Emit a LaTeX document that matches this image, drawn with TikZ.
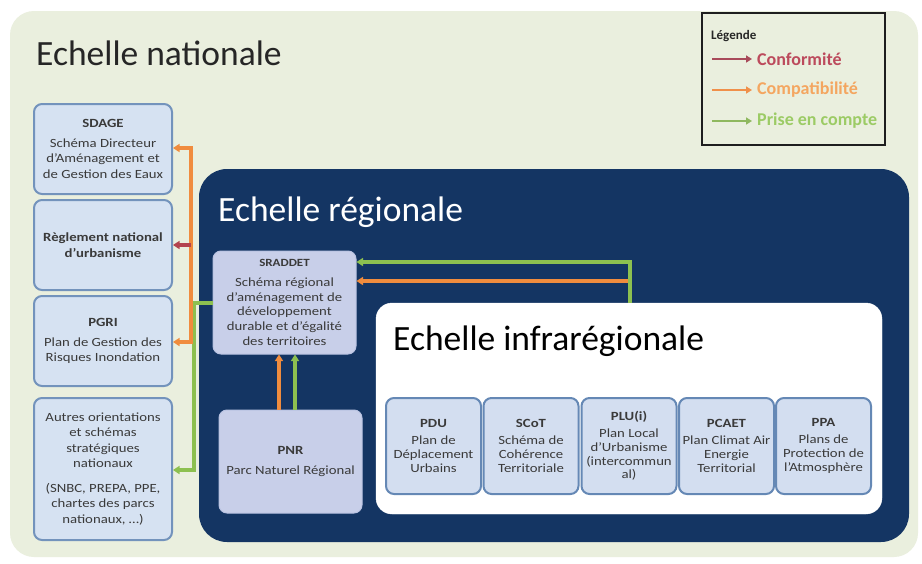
\documentclass[tikz,border=0pt]{standalone}
\usepackage{fontspec}
\setmainfont{Carlito}
\newfontfamily\boxfont[FakeStretch=1.18]{Carlito}
\usetikzlibrary{arrows.meta}
\definecolor{bgout}{HTML}{EAEFDE}
\definecolor{natfill}{HTML}{D6E2F2}
\definecolor{natdraw}{HTML}{7393BC}
\definecolor{regblue}{HTML}{143563}
\definecolor{lav}{HTML}{C8CFE9}
\definecolor{lavdraw}{HTML}{BAC3E2}
\definecolor{subfill}{HTML}{D3DEF0}
\definecolor{subdraw}{HTML}{6588B5}
\definecolor{cred}{HTML}{B3434F}
\definecolor{corange}{HTML}{F08C3E}
\definecolor{cgreen}{HTML}{8DC050}
\definecolor{txt}{HTML}{3A3A3A}
\definecolor{txtb}{HTML}{262626}
\definecolor{legred}{HTML}{BC4A5C}
\definecolor{legorange}{HTML}{F4A660}
\definecolor{leggreen}{HTML}{9CCB65}
\definecolor{legarrred}{HTML}{A84A5A}
\definecolor{legarror}{HTML}{F0904A}
\definecolor{legarrgr}{HTML}{8FB85F}
\definecolor{legdraw}{HTML}{1E1E1E}
\tikzset{
  tipA/.tip={Triangle[length=6.5pt,width=8pt]},
  tipL/.tip={Triangle[length=6pt,width=7pt]},
  natbox/.style={draw=natdraw, line width=2pt, fill=natfill, rounded corners=8pt,
    minimum width=138pt, minimum height=90pt, inner sep=0pt, align=center, text=txt,
    font=\boxfont\fontsize{12.5}{15.5}\selectfont},
  regbox/.style={draw=lavdraw, line width=1pt, fill=lav, rounded corners=8pt,
    minimum width=143pt, minimum height=103pt, inner sep=0pt, align=center, text=txt,
    font=\boxfont\fontsize{12.5}{14.7}\selectfont},
  subbox/.style={draw=subdraw, line width=2pt, fill=subfill, rounded corners=8pt,
    minimum width=95pt, minimum height=96pt, inner sep=0pt, align=center, text=txt,
    font=\boxfont\fontsize{12.5}{13.8}\selectfont},
  bigtitle/.style={anchor=base west, inner sep=0pt, font=\fontsize{35.5}{42}\selectfont},
  legtext/.style={anchor=west, inner sep=0pt, font=\bfseries\fontsize{18}{21}\selectfont},
  conn/.style={line width=3.4pt},
  oline/.style={conn, draw=corange},
  gline/.style={conn, draw=cgreen},
  rline/.style={conn, draw=cred},
  legarr/.style={line width=2.8pt, -tipL},
}
\begin{document}
\begin{tikzpicture}[x=1pt,y=-1pt]
\useasboundingbox (0,0) rectangle (922,563);
\fill[white] (0,0) rectangle (922,563);
% national scale background
\fill[bgout, rounded corners=24pt] (10,11) rectangle (918,557);
\node[bigtitle, text=txtb] (tnat) at (36,65) {Echelle nationale};

% legend
\node[draw=legdraw, line width=2pt, minimum width=183pt, minimum height=132pt, inner sep=0pt] (legend) at (793.5,79) {};
\node[anchor=west, inner sep=0pt, font=\bfseries\fontsize{13}{15}\selectfont, text=txtb] (legtitle) at (711,36) {Légende};
\node[legtext, text=legred] (lt1) at (757,59) {Conformité};
\node[legtext, text=legorange] (lt2) at (757,90) {Compatibilité};
\node[legtext, text=leggreen] (lt3) at (757,121) {Prise en compte};
\coordinate (la1) at (712,59);
\coordinate (la2) at (712,90);
\coordinate (la3) at (712,121);
\draw[legarr, draw=legarrred] (la1) -- ([xshift=-5pt]lt1.west);
\draw[legarr, draw=legarror] (la2) -- ([xshift=-5pt]lt2.west);
\draw[legarr, draw=legarrgr] (la3) -- ([xshift=-5pt]lt3.west);

% national boxes
\node[natbox] (sdage) at (103,149) {\textbf{SDAGE}\\[4pt]Schéma Directeur\\d’Aménagement et\\de Gestion des Eaux};
\node[natbox] (regl) at (103,245) {\textbf{Règlement national}\\\textbf{d’urbanisme}};
\node[natbox] (pgri) at (103,341) {\textbf{PGRI}\\[4pt]Plan de Gestion des\\Risques Inondation};
\node[natbox, minimum height=142pt] (autres) at (103,469) {Autres orientations\\et schémas\\stratégiques\\nationaux\\[9pt](SNBC, PREPA, PPE,\\chartes des parcs\\nationaux, …)};

% regional scale
\fill[regblue, rounded corners=28pt] (199,169) rectangle (909,542);
\node[bigtitle, text=white] (treg) at (218,221) {Echelle régionale};
\node[regbox] (sraddet) at (284.5,302.5) {{\bfseries\fontsize{11}{13}\selectfont SRADDET}\\[5pt]Schéma régional\\d’aménagement de\\développement\\durable et d’égalité\\des territoires};
\node[regbox] (pnr) at (290.5,461.5) {\textbf{PNR}\\[5pt]Parc Naturel Régional};

% infra-regional scale
\node[fill=white, draw=white, rounded corners=16pt, minimum width=506pt, minimum height=211pt, inner sep=0pt] (infra) at (629,408.5) {};
\node[bigtitle, text=black] (tinfra) at (393,350) {Echelle infrarégionale};
\node[subbox] (pdu) at (433.5,446) {\textbf{PDU}\\[3pt]Plan de\\Déplacement\\Urbains};
\node[subbox] (scot) at (531,446) {\textbf{SCoT}\\[3pt]Schéma de\\Cohérence\\Territoriale};
\node[subbox] (plu) at (629,446) {\textbf{PLU(i)}\\[3pt]Plan Local\\d’Urbanisme\\(intercommun\\al)};
\node[subbox] (pcaet) at (726.5,446) {\textbf{PCAET}\\[3pt]Plan Climat Air\\Energie\\Territorial};
\node[subbox] (ppa) at (823.5,446) {\textbf{PPA}\\[3pt]Plans de\\Protection de\\l’Atmosphère};

% connectors: SRADDET to national documents
\coordinate (o1) at (191,148);
\coordinate (o2) at (191,342);
\coordinate (r1) at (191,245);
\coordinate (g1) at (194,303);
\coordinate (g2) at (194,470);
\draw[gline, -tipA] (sraddet.west |- g1) -- (g1) -- (g2) -- (g2 -| autres.east);
\draw[oline, tipA-tipA] (o1 -| sdage.east) -- (o1) -- (o2) -- (o2 -| pgri.east);
\draw[rline, -tipA] (r1) -- (r1 -| regl.east);

% connectors: infra-regional to SRADDET
\coordinate (gr) at (630,262);
\coordinate (orr) at (628,281);
\draw[oline, -tipA] (orr) -- (orr -| sraddet.east);
\draw[gline, -tipA] (gr |- infra.north) -- (gr) -- (gr -| sraddet.east);

% connectors: PNR to SRADDET
\coordinate (po) at (279,380);
\coordinate (pg) at (295,380);
\draw[oline, -tipA] (po |- pnr.north) -- (po |- sraddet.south);
\draw[gline, -tipA] (pg |- pnr.north) -- (pg |- sraddet.south);
\end{tikzpicture}
\end{document}
